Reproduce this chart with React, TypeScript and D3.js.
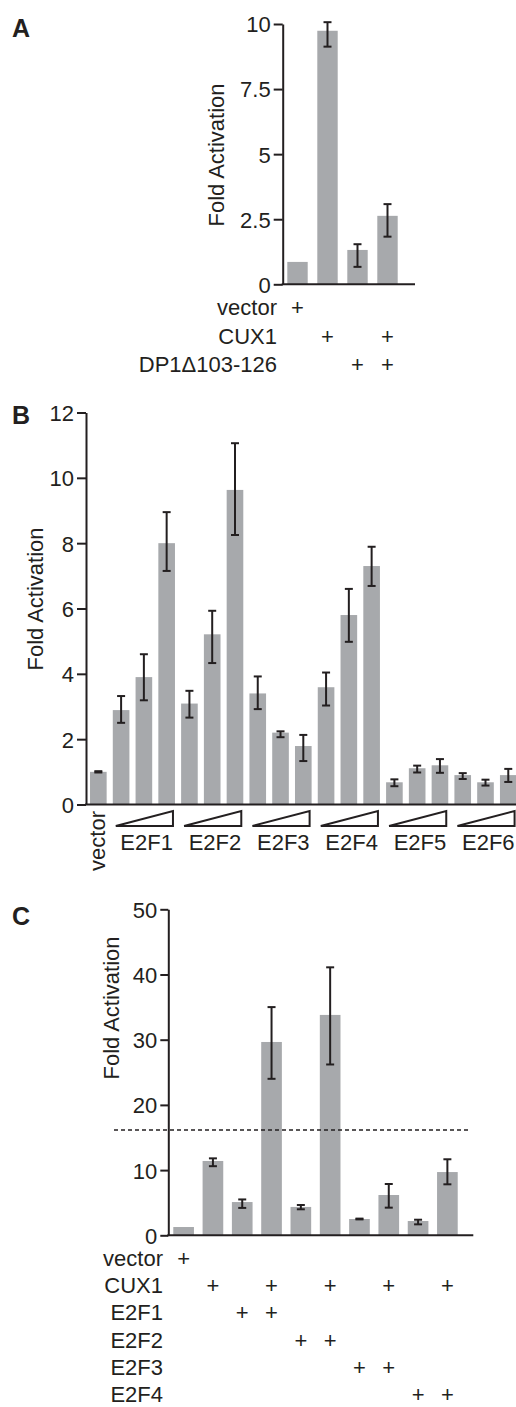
import React, {useEffect, useRef} from 'react';
import * as d3 from 'd3';

const INK = '#231f20';
const BAR = '#a7a9ac';
const FONT = '"Liberation Sans", Arial, Helvetica, sans-serif';

// panel A
const aBars = ['vector', 'CUX1', 'DP1', 'CUX1+DP1'];
const aValues = [0.86, 9.74, 1.32, 2.63];
const aErrHi = [null, 10.07, 1.54, 3.08];
const aErrLo = [null, 9.13, 0.67, 1.83];
const aTicks = [0, 2.5, 5, 7.5, 10];
const aRows = ['vector', 'CUX1', 'DP1Δ103-126'];
const aPlus = [[0], [1, 3], [2, 3]];

// panel B
const bGroups = ['E2F1', 'E2F2', 'E2F3', 'E2F4', 'E2F5', 'E2F6'];
const bValues = [1.0, 2.89, 3.9, 8.0, 3.09, 5.21, 9.63, 3.4, 2.2, 1.79, 3.59, 5.8, 7.3, 0.68, 1.11, 1.2, 0.9, 0.68, 0.9];
const bErrHi = [1.02, 3.32, 4.6, 8.95, 3.48, 5.93, 11.06, 3.92, 2.24, 2.13, 4.04, 6.6, 7.89, 0.77, 1.19, 1.39, 0.96, 0.76, 1.09];
const bErrLo = [0.98, 2.5, 3.19, 7.15, 2.66, 4.33, 8.25, 2.92, 2.06, 1.33, 3.03, 4.98, 6.69, 0.56, 0.98, 0.97, 0.78, 0.58, 0.69];
const bTicks = [0, 2, 4, 6, 8, 10, 12];

// panel C
const cValues = [1.27, 11.4, 5.1, 29.65, 4.35, 33.8, 2.5, 6.18, 2.19, 9.7];
const cErrHi = [null, 11.8, 5.5, 35.0, 4.65, 41.1, 2.56, 7.87, 2.39, 11.66];
const cErrLo = [null, 10.6, 4.2, 24.0, 3.99, 26.2, 2.44, 4.24, 1.68, 7.82];
const cTicks = [0, 10, 20, 30, 40, 50];
const cThreshold = 16.15;
const cRows = ['vector', 'CUX1', 'E2F1', 'E2F2', 'E2F3', 'E2F4'];
const cPlus = [[0], [1, 3, 5, 7, 9], [2, 3], [4, 5], [6, 7], [8, 9]];

type Panel = {
  values: number[];
  hi: (number | null)[];
  lo: (number | null)[];
  ticks: number[];
  yTop: number;
  yBottom: number;
  yMax: number;
  xAxis: number;
  xEnd: number;
  bandRange: [number, number];
  padIn: number;
  padOut: number;
  tickLen: number;
};

function drawPanel(svg: any, p: Panel) {
  const y = d3.scaleLinear().domain([0, p.yMax]).range([p.yBottom, p.yTop]);
  const x = d3
    .scaleBand<number>()
    .domain(p.values.map((_, i) => i))
    .range(p.bandRange)
    .paddingInner(p.padIn)
    .paddingOuter(p.padOut);
  const g = svg.append('g');

  // bars
  g.selectAll('rect.bar')
    .data(p.values)
    .enter()
    .append('rect')
    .attr('x', (_: number, i: number) => x(i))
    .attr('y', (d: number) => y(d))
    .attr('width', x.bandwidth())
    .attr('height', (d: number) => y(0) - y(d))
    .attr('fill', BAR);

  // error bars
  const cap = 4;
  p.values.forEach((_, i) => {
    if (p.hi[i] == null) return;
    const cx = (x(i) as number) + x.bandwidth() / 2;
    const y1 = y(p.hi[i] as number);
    const y2 = y(p.lo[i] as number);
    const e = g.append('g').attr('stroke', INK).attr('stroke-width', 2);
    e.append('line').attr('x1', cx).attr('x2', cx).attr('y1', y1).attr('y2', y2);
    e.append('line').attr('x1', cx - cap).attr('x2', cx + cap).attr('y1', y1).attr('y2', y1);
    e.append('line').attr('x1', cx - cap).attr('x2', cx + cap).attr('y1', y2).attr('y2', y2);
  });

  // y axis
  const ax = g
    .append('g')
    .attr('transform', `translate(${p.xAxis},0)`)
    .call(
      d3
        .axisLeft(y)
        .tickValues(p.ticks)
        .tickSize(p.tickLen)
        .tickSizeOuter(0)
        .tickPadding(3)
        .tickFormat(d3.format(''))
    );
  ax.attr('font-family', FONT).attr('font-size', 22);
  ax.select('.domain').attr('stroke', INK).attr('stroke-width', 2);
  ax.selectAll('.tick line').attr('stroke', INK).attr('stroke-width', 2);
  ax.selectAll('.tick text').attr('fill', INK).attr('dy', '0.36em');

  // x axis line
  g.append('line')
    .attr('x1', p.xAxis - 1)
    .attr('x2', p.xEnd)
    .attr('y1', y(0))
    .attr('y2', y(0))
    .attr('stroke', INK)
    .attr('stroke-width', 2);

  return {x, y, g};
}

function text(svg: any, s: string, x: number, y: number, anchor = 'start', size = 22, weight = 'normal') {
  return svg
    .append('text')
    .attr('x', x)
    .attr('y', y)
    .attr('text-anchor', anchor)
    .attr('font-family', FONT)
    .attr('font-size', size)
    .attr('font-weight', weight)
    .attr('fill', INK)
    .text(s);
}

function yLabel(svg: any, cx: number, cy: number) {
  svg
    .append('text')
    .attr('transform', `translate(${cx},${cy}) rotate(-90)`)
    .attr('text-anchor', 'middle')
    .attr('font-family', FONT)
    .attr('font-size', 22)
    .attr('fill', INK)
    .text('Fold Activation');
}

function plusRows(svg: any, x: any, rows: string[], plus: number[][], labelX: number, start: number, step: number) {
  rows.forEach((r, j) => {
    const by = start + j * step;
    text(svg, r, labelX, by, 'end');
    plus[j].forEach((i) => text(svg, '+', (x(i) as number) + x.bandwidth() / 2, by, 'middle'));
  });
}

export default function App() {
  const ref = useRef<SVGSVGElement>(null);

  useEffect(() => {
    document.body.style.margin = '0';
    const svg = d3.select(ref.current);
    svg.selectAll('*').remove();

    // ---- A
    text(svg, 'A', 12, 37, 'start', 25, 'bold');
    const A = drawPanel(svg, {
      values: aValues,
      hi: aErrHi,
      lo: aErrLo,
      ticks: aTicks,
      yTop: 24,
      yBottom: 284.3,
      yMax: 10,
      xAxis: 282.7,
      xEnd: 415,
      bandRange: [284.3, 400.7],
      padIn: 0.32,
      padOut: 0.1,
      tickLen: 9,
    });
    yLabel(svg, 224, 155);
    plusRows(svg, A.x, aRows, aPlus, 277, 315, 28.5);

    // ---- B
    text(svg, 'B', 12, 424, 'start', 25, 'bold');
    const B = drawPanel(svg, {
      values: bValues,
      hi: bErrHi,
      lo: bErrLo,
      ticks: bTicks,
      yTop: 412.5,
      yBottom: 804.5,
      yMax: 12,
      xAxis: 86,
      xEnd: 516,
      bandRange: [86.6, 520],
      padIn: 0.27,
      padOut: 0.15,
      tickLen: 9,
    });
    yLabel(svg, 43, 599);
    const vx = (B.x(0) as number) + B.x.bandwidth() / 2;
    svg
      .append('text')
      .attr('transform', `translate(${vx + 7},811) rotate(-90)`)
      .attr('text-anchor', 'end')
      .attr('font-family', FONT)
      .attr('font-size', 22)
      .attr('fill', INK)
      .text('vector');
    bGroups.forEach((gName, gi) => {
      const first = 1 + gi * 3;
      const x0 = (B.x(first) as number) + 3;
      const x1 = (B.x(first + 2) as number) + B.x.bandwidth() - 2;
      svg
        .append('path')
        .attr('d', `M${x0},826 L${x1},811 L${x1},826 Z`)
        .attr('fill', 'none')
        .attr('stroke', INK)
        .attr('stroke-width', 2)
        .attr('stroke-linejoin', 'miter');
      text(svg, gName, x1, 850, 'end');
    });

    // ---- C
    text(svg, 'C', 12, 925, 'start', 25, 'bold');
    const C = drawPanel(svg, {
      values: cValues,
      hi: cErrHi,
      lo: cErrLo,
      ticks: cTicks,
      yTop: 909.3,
      yBottom: 1235.3,
      yMax: 50,
      xAxis: 168.3,
      xEnd: 473.3,
      bandRange: [168.3, 462.7],
      padIn: 0.295,
      padOut: 0.17,
      tickLen: 8,
    });
    svg
      .append('line')
      .attr('x1', 114)
      .attr('x2', 470)
      .attr('y1', C.y(cThreshold))
      .attr('y2', C.y(cThreshold))
      .attr('stroke', INK)
      .attr('stroke-width', 1.6)
      .attr('stroke-dasharray', '4,3');
    yLabel(svg, 119, 1008);
    plusRows(svg, C.x, cRows, cPlus, 163, 1266, 27.2);
  }, []);

  return <svg ref={ref} width={516} height={1407} style={{display: 'block', background: '#fff'}} />;
}
